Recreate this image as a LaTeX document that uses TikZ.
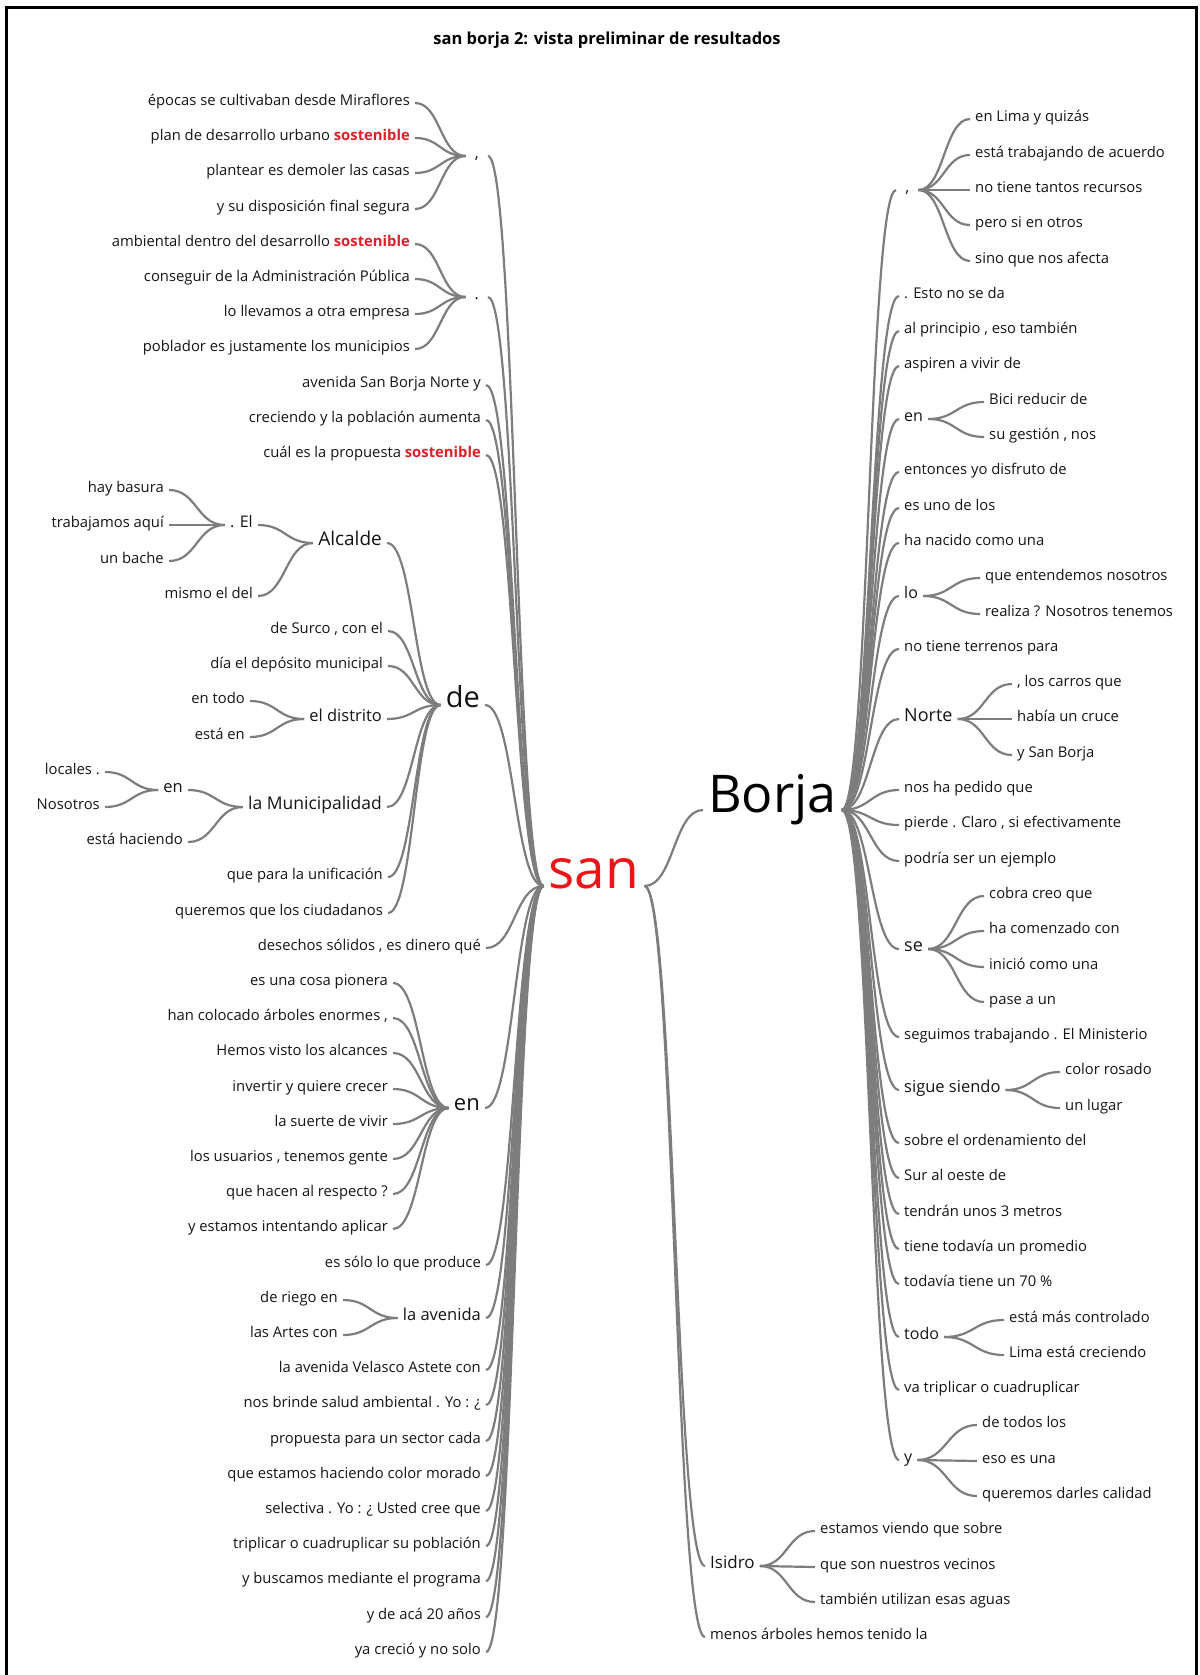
\documentclass[tikz,border=0pt]{standalone}
\usepackage{fontspec}
\setmainfont{Open Sans}
\usetikzlibrary{calc}

\definecolor{ink}{RGB}{20,20,20}
\definecolor{linegray}{RGB}{125,125,125}
\definecolor{hot}{RGB}{225,30,40}
\definecolor{sanred}{RGB}{235,20,25}
\newcommand{\keyword}[1]{\textbf{\textcolor{hot}{#1}}}

\tikzset{
	word/.style={inner xsep=5pt, inner ysep=1pt, text=ink, font=\fontsize{14.8}{17}\selectfont},
	lword/.style={word, anchor=mid east},
	rword/.style={word, anchor=mid west},
	fsize/.style={font=\fontsize{#1}{#1}\selectfont},
	punct/.style={minimum width=22pt},
	link/.style={draw=linegray, line width=2.2pt, to path={.. controls ($(\tikztostart)!0.5!(\tikztotarget |- \tikztostart)$) and ($(\tikztotarget)!0.5!(\tikztostart |- \tikztotarget)$) .. (\tikztotarget)}}
}

\begin{document}
\begin{tikzpicture}[x=1pt, y=-1pt]
				\useasboundingbox (0,0) rectangle (1199,1675);
				\draw [line width=3pt] (6,1700) -- (6,8) -- (1196,8) -- (1196,1700);
				\node (title) at (607, 40) {\fontsize{16.5}{18}\selectfont\bfseries san borja 2: vista preliminar de resultados};

				% left half
				\node [lword] (left1) at (415, 103) {épocas se cultivaban desde Miraflores};
				\node [lword] (left2) at (415, 138) {plan de desarrollo urbano \keyword{sostenible}};
				\node [lword] (left3) at (415, 173) {plantear es demoler las casas};
				\node [lword] (left4) at (415, 209) {y su disposición final segura};
				\node [lword] (left5) at (415, 244) {ambiental dentro del desarrollo \keyword{sostenible}};
				\node [lword] (left6) at (415, 279) {conseguir de la Administración Pública};
				\node [lword] (left7) at (415, 314) {lo llevamos a otra empresa};
				\node [lword] (left8) at (415, 349) {poblador es justamente los municipios};
				\node [lword] (left9) at (486, 385) {avenida San Borja Norte y};
				\node [lword] (left10) at (486, 420) {creciendo y la población aumenta};
				\node [lword] (left11) at (486, 455) {cuál es la propuesta \keyword{sostenible}};
				\node [lword] (left12) at (169, 490) {hay basura};
				\node [lword] (left13) at (169, 525) {trabajamos aquí};
				\node [lword] (left14) at (169, 561) {un bache};
				\node [lword] (left15) at (258, 596) {mismo el del};
				\node [lword] (left16) at (388, 631) {de Surco , con el};
				\node [lword] (left17) at (388, 666) {día el depósito municipal};
				\node [lword] (left18) at (250, 701) {en todo};
				\node [lword] (left19) at (250, 737) {está en};
				\node [lword] (left20) at (105, 772) {locales .};
				\node [lword] (left21) at (105, 807) {Nosotros};
				\node [lword] (left22) at (188, 842) {está haciendo};
				\node [lword] (left23) at (388, 877) {que para la unificación};
				\node [lword] (left24) at (388, 913) {queremos que los ciudadanos};
				\node [lword] (left25) at (486, 948) {desechos sólidos , es dinero qué};
				\node [lword] (left26) at (393, 983) {es una cosa pionera};
				\node [lword] (left27) at (393, 1018) {han colocado árboles enormes ,};
				\node [lword] (left28) at (393, 1053) {Hemos visto los alcances};
				\node [lword] (left29) at (393, 1089) {invertir y quiere crecer};
				\node [lword] (left30) at (393, 1124) {la suerte de vivir};
				\node [lword] (left31) at (393, 1159) {los usuarios , tenemos gente};
				\node [lword] (left32) at (393, 1194) {que hacen al respecto ?};
				\node [lword] (left33) at (393, 1229) {y estamos intentando aplicar};
				\node [lword] (left34) at (486, 1265) {es sólo lo que produce};
				\node [lword] (left35) at (343, 1300) {de riego en};
				\node [lword] (left36) at (343, 1335) {las Artes con};
				\node [lword] (left37) at (486, 1370) {la avenida Velasco Astete con};
				\node [lword] (left38) at (486, 1405) {nos brinde salud ambiental . Yo : ¿};
				\node [lword] (left39) at (486, 1441) {propuesta para un sector cada};
				\node [lword] (left40) at (486, 1476) {que estamos haciendo color morado};
				\node [lword] (left41) at (486, 1511) {selectiva . Yo : ¿ Usted cree que};
				\node [lword] (left42) at (486, 1546) {triplicar o cuadruplicar su población};
				\node [lword] (left43) at (486, 1581) {y buscamos mediante el programa};
				\node [lword] (left44) at (486, 1617) {y de acá 20 años};
				\node [lword] (left45) at (486, 1652) {ya creció y no solo};

				\node [lword, punct, fsize=16] (lcomma) at (488, 156) {,};
				\node [lword, punct, fsize=16] (lperiod) at (488, 297) {.};
				\node [lword, fsize=16] (ldotel) at (258, 525) {. El};
				\node [lword, fsize=19] (alcalde) at (387, 543) {Alcalde};
				\node [lword, fsize=16.5] (distrito) at (387, 719) {el distrito};
				\node [lword, fsize=16.5] (lensmall) at (188, 790) {en};
				\node [lword, fsize=17.5] (muni) at (387, 807) {la Municipalidad};
				\node [lword, fsize=29] (de) at (485, 705) {de};
				\node [lword, fsize=22] (lenbig) at (485, 1108) {en};
				\node [lword, fsize=16.5] (lavenida) at (486, 1318) {la avenida};
				\node [word, anchor=mid, fsize=55, text=sanred] (san) at (594, 886) {san};

				% right half
				\node [rword, fsize=52, text=black] (borja) at (703, 810) {Borja};
				\node [rword, punct, fsize=16] (rcomma) at (896, 190) {,};
				\node [rword, fsize=16] (ren) at (899, 419) {en};
				\node [rword, fsize=16] (rlo) at (899, 596) {lo};
				\node [rword, fsize=18] (norte) at (899, 719) {Norte};
				\node [rword, fsize=18] (rse) at (899, 949) {se};
				\node [rword, fsize=16.5] (sigue) at (899, 1090) {sigue siendo};
				\node [rword, fsize=16] (todo) at (899, 1337) {todo};
				\node [rword, fsize=16] (ry) at (899, 1460) {y};
				\node [rword, fsize=17] (isidro) at (705, 1566) {Isidro};

				\node [rword] (right1) at (970, 119) {en Lima y quizás};
				\node [rword] (right2) at (970, 155) {está trabajando de acuerdo};
				\node [rword] (right3) at (970, 190) {no tiene tantos recursos};
				\node [rword] (right4) at (970, 225) {pero si en otros};
				\node [rword] (right5) at (970, 261) {sino que nos afecta};
				\node [rword] (right6) at (899, 296) {. Esto no se da};
				\node [rword] (right7) at (899, 331) {al principio , eso también};
				\node [rword] (right8) at (899, 366) {aspiren a vivir de};
				\node [rword] (right9) at (984, 402) {Bici reducir de};
				\node [rword] (right10) at (984, 437) {su gestión , nos};
				\node [rword] (right11) at (899, 472) {entonces yo disfruto de};
				\node [rword] (right12) at (899, 508) {es uno de los};
				\node [rword] (right13) at (899, 543) {ha nacido como una};
				\node [rword] (right14) at (980, 578) {que entendemos nosotros};
				\node [rword] (right15) at (980, 614) {realiza ? Nosotros tenemos};
				\node [rword] (right16) at (899, 649) {no tiene terrenos para};
				\node [rword] (right17) at (1012, 684) {, los carros que};
				\node [rword] (right18) at (1012, 719) {había un cruce};
				\node [rword] (right19) at (1012, 755) {y San Borja};
				\node [rword] (right20) at (899, 790) {nos ha pedido que};
				\node [rword] (right21) at (899, 825) {pierde . Claro , si efectivamente};
				\node [rword] (right22) at (899, 861) {podría ser un ejemplo};
				\node [rword] (right23) at (984, 896) {cobra creo que};
				\node [rword] (right24) at (984, 931) {ha comenzado con};
				\node [rword] (right25) at (984, 967) {inició como una};
				\node [rword] (right26) at (984, 1002) {pase a un};
				\node [rword] (right27) at (899, 1037) {seguimos trabajando . El Ministerio};
				\node [rword] (right28) at (1060, 1072) {color rosado};
				\node [rword] (right29) at (1060, 1108) {un lugar};
				\node [rword] (right30) at (899, 1143) {sobre el ordenamiento del};
				\node [rword] (right31) at (899, 1178) {Sur al oeste de};
				\node [rword] (right32) at (899, 1214) {tendrán unos 3 metros};
				\node [rword] (right33) at (899, 1249) {tiene todavía un promedio};
				\node [rword] (right34) at (899, 1284) {todavía tiene un 70 \%};
				\node [rword] (right35) at (1004, 1320) {está más controlado};
				\node [rword] (right36) at (1004, 1355) {Lima está creciendo};
				\node [rword] (right37) at (899, 1390) {va triplicar o cuadruplicar};
				\node [rword] (right38) at (977, 1425) {de todos los};
				\node [rword] (right39) at (977, 1461) {eso es una};
				\node [rword] (right40) at (977, 1496) {queremos darles calidad};
				\node [rword] (right41) at (815, 1531) {estamos viendo que sobre};
				\node [rword] (right42) at (815, 1567) {que son nuestros vecinos};
				\node [rword] (right43) at (815, 1602) {también utilizan esas aguas};
				\node [rword] (right44) at (705, 1637) {menos árboles hemos tenido la};

				% left branches
				\draw [link] (left1.mid east) to (lcomma.mid west);
				\draw [link] (left2.mid east) to (lcomma.mid west);
				\draw [link] (left3.mid east) to (lcomma.mid west);
				\draw [link] (left4.mid east) to (lcomma.mid west);
				\draw [link] (left5.mid east) to (lperiod.mid west);
				\draw [link] (left6.mid east) to (lperiod.mid west);
				\draw [link] (left7.mid east) to (lperiod.mid west);
				\draw [link] (left8.mid east) to (lperiod.mid west);
				\draw [link] (left12.mid east) to (ldotel.mid west);
				\draw [link] (left13.mid east) to (ldotel.mid west);
				\draw [link] (left14.mid east) to (ldotel.mid west);
				\draw [link] (ldotel.mid east) to (alcalde.mid west);
				\draw [link] (left15.mid east) to (alcalde.mid west);
				\draw [link] (left18.mid east) to (distrito.mid west);
				\draw [link] (left19.mid east) to (distrito.mid west);
				\draw [link] (left20.mid east) to (lensmall.mid west);
				\draw [link] (left21.mid east) to (lensmall.mid west);
				\draw [link] (lensmall.mid east) to (muni.mid west);
				\draw [link] (left22.mid east) to (muni.mid west);
				\draw [link] (alcalde.mid east) to (de.mid west);
				\draw [link] (left16.mid east) to (de.mid west);
				\draw [link] (left17.mid east) to (de.mid west);
				\draw [link] (distrito.mid east) to (de.mid west);
				\draw [link] (muni.mid east) to (de.mid west);
				\draw [link] (left23.mid east) to (de.mid west);
				\draw [link] (left24.mid east) to (de.mid west);
				\draw [link] (left26.mid east) to (lenbig.mid west);
				\draw [link] (left27.mid east) to (lenbig.mid west);
				\draw [link] (left28.mid east) to (lenbig.mid west);
				\draw [link] (left29.mid east) to (lenbig.mid west);
				\draw [link] (left30.mid east) to (lenbig.mid west);
				\draw [link] (left31.mid east) to (lenbig.mid west);
				\draw [link] (left32.mid east) to (lenbig.mid west);
				\draw [link] (left33.mid east) to (lenbig.mid west);
				\draw [link] (left35.mid east) to (lavenida.mid west);
				\draw [link] (left36.mid east) to (lavenida.mid west);
				\draw [link] (lcomma.mid east) to (san.mid west);
				\draw [link] (lperiod.mid east) to (san.mid west);
				\draw [link] (left9.mid east) to (san.mid west);
				\draw [link] (left10.mid east) to (san.mid west);
				\draw [link] (left11.mid east) to (san.mid west);
				\draw [link] (de.mid east) to (san.mid west);
				\draw [link] (left25.mid east) to (san.mid west);
				\draw [link] (lenbig.mid east) to (san.mid west);
				\draw [link] (left34.mid east) to (san.mid west);
				\draw [link] (lavenida.mid east) to (san.mid west);
				\draw [link] (left37.mid east) to (san.mid west);
				\draw [link] (left38.mid east) to (san.mid west);
				\draw [link] (left39.mid east) to (san.mid west);
				\draw [link] (left40.mid east) to (san.mid west);
				\draw [link] (left41.mid east) to (san.mid west);
				\draw [link] (left42.mid east) to (san.mid west);
				\draw [link] (left43.mid east) to (san.mid west);
				\draw [link] (left44.mid east) to (san.mid west);
				\draw [link] (left45.mid east) to (san.mid west);

				% right branches
				\draw [link] (san.mid east) to (borja.mid west);
				\draw [link] (san.mid east) to (isidro.mid west);
				\draw [link] (san.mid east) to (right44.mid west);
				\draw [link] (borja.mid east) to (rcomma.mid west);
				\draw [link] (borja.mid east) to (right6.mid west);
				\draw [link] (borja.mid east) to (right7.mid west);
				\draw [link] (borja.mid east) to (right8.mid west);
				\draw [link] (borja.mid east) to (ren.mid west);
				\draw [link] (borja.mid east) to (right11.mid west);
				\draw [link] (borja.mid east) to (right12.mid west);
				\draw [link] (borja.mid east) to (right13.mid west);
				\draw [link] (borja.mid east) to (rlo.mid west);
				\draw [link] (borja.mid east) to (right16.mid west);
				\draw [link] (borja.mid east) to (norte.mid west);
				\draw [link] (borja.mid east) to (right20.mid west);
				\draw [link] (borja.mid east) to (right21.mid west);
				\draw [link] (borja.mid east) to (right22.mid west);
				\draw [link] (borja.mid east) to (rse.mid west);
				\draw [link] (borja.mid east) to (right27.mid west);
				\draw [link] (borja.mid east) to (sigue.mid west);
				\draw [link] (borja.mid east) to (right30.mid west);
				\draw [link] (borja.mid east) to (right31.mid west);
				\draw [link] (borja.mid east) to (right32.mid west);
				\draw [link] (borja.mid east) to (right33.mid west);
				\draw [link] (borja.mid east) to (right34.mid west);
				\draw [link] (borja.mid east) to (todo.mid west);
				\draw [link] (borja.mid east) to (right37.mid west);
				\draw [link] (borja.mid east) to (ry.mid west);
				\draw [link] (rcomma.mid east) to (right1.mid west);
				\draw [link] (rcomma.mid east) to (right2.mid west);
				\draw [link] (rcomma.mid east) to (right3.mid west);
				\draw [link] (rcomma.mid east) to (right4.mid west);
				\draw [link] (rcomma.mid east) to (right5.mid west);
				\draw [link] (ren.mid east) to (right9.mid west);
				\draw [link] (ren.mid east) to (right10.mid west);
				\draw [link] (rlo.mid east) to (right14.mid west);
				\draw [link] (rlo.mid east) to (right15.mid west);
				\draw [link] (norte.mid east) to (right17.mid west);
				\draw [link] (norte.mid east) to (right18.mid west);
				\draw [link] (norte.mid east) to (right19.mid west);
				\draw [link] (rse.mid east) to (right23.mid west);
				\draw [link] (rse.mid east) to (right24.mid west);
				\draw [link] (rse.mid east) to (right25.mid west);
				\draw [link] (rse.mid east) to (right26.mid west);
				\draw [link] (sigue.mid east) to (right28.mid west);
				\draw [link] (sigue.mid east) to (right29.mid west);
				\draw [link] (todo.mid east) to (right35.mid west);
				\draw [link] (todo.mid east) to (right36.mid west);
				\draw [link] (ry.mid east) to (right38.mid west);
				\draw [link] (ry.mid east) to (right39.mid west);
				\draw [link] (ry.mid east) to (right40.mid west);
				\draw [link] (isidro.mid east) to (right41.mid west);
				\draw [link] (isidro.mid east) to (right42.mid west);
				\draw [link] (isidro.mid east) to (right43.mid west);
		\end{tikzpicture}
\end{document}
